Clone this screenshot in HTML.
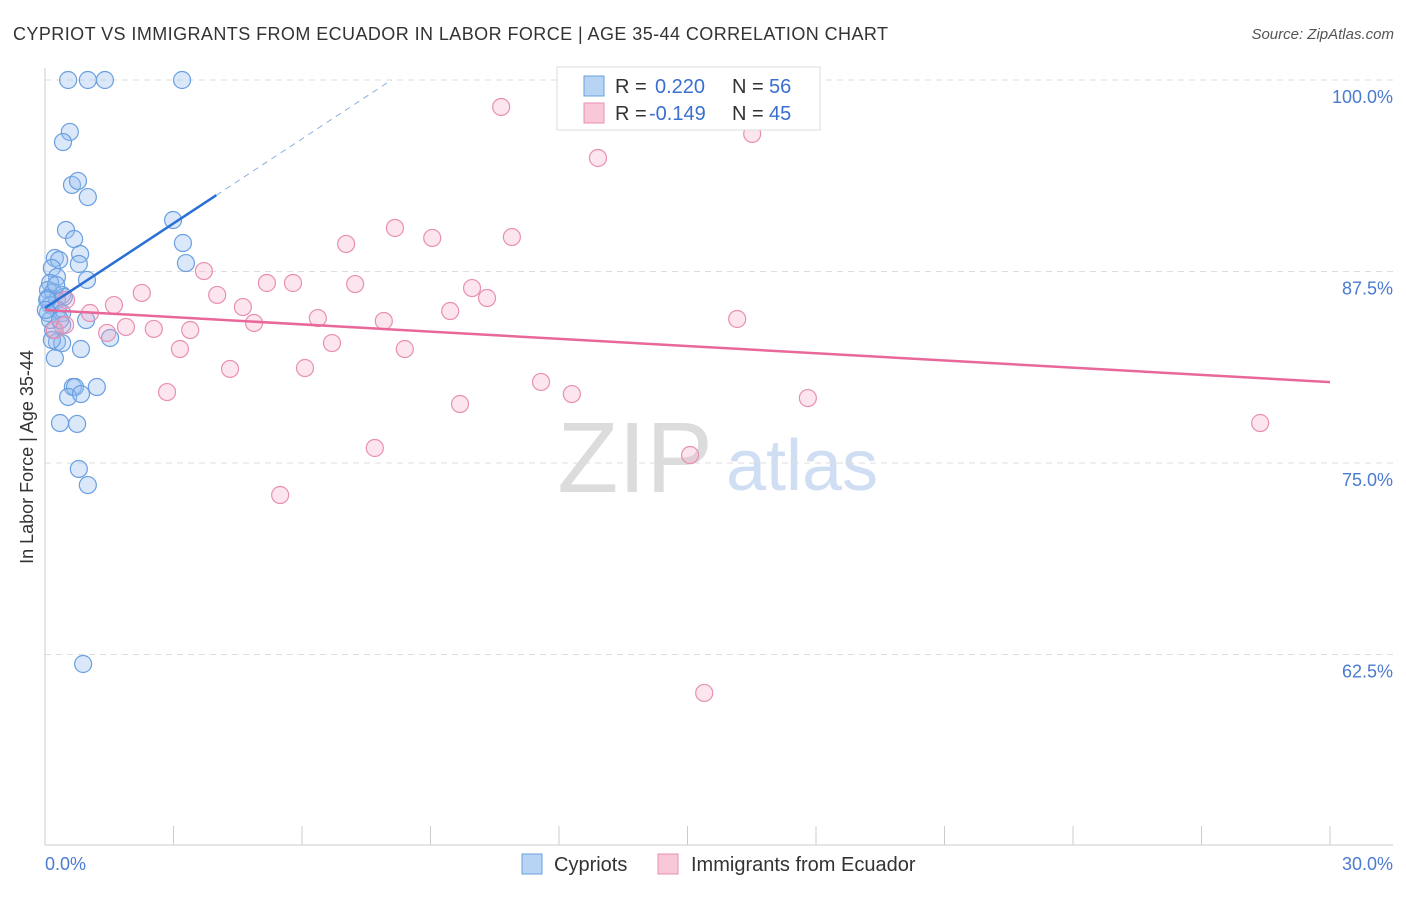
<!DOCTYPE html>
<html><head><meta charset="utf-8"><style>
body{margin:0;background:#fff;font-family:"Liberation Sans",sans-serif;}
svg text{font-family:"Liberation Sans",sans-serif;}
</style></head><body>
<svg id="c" width="1406" height="892">
<text x="13" y="40" font-size="18" fill="#333" textLength="875" lengthAdjust="spacing">CYPRIOT VS IMMIGRANTS FROM ECUADOR IN LABOR FORCE | AGE 35-44 CORRELATION CHART</text>
<text x="1394" y="39" font-size="15" fill="#555" font-style="italic" text-anchor="end">Source: ZipAtlas.com</text>
<text transform="translate(33,457) rotate(-90)" font-size="18" fill="#333" text-anchor="middle">In Labor Force | Age 35-44</text>
<g><text x="635" y="492" font-size="100" fill="#dcdcdc" font-family="Liberation Serif" text-anchor="middle">ZIP</text><text x="802" y="490" font-size="72" fill="#d0def3" text-anchor="middle">atlas</text></g>
<g id="grid"></g><g id="marks"></g>
<g>
<rect x="557" y="67" width="263" height="63" fill="#fff" stroke="#ddd"/>
<rect x="584" y="76" width="20" height="20" fill="#b8d4f5" stroke="#6a9fe0"/>
<text x="615" y="93" font-size="20" fill="#333">R =</text><text x="655" y="93" font-size="20" fill="#3a6fd0">0.220</text>
<text x="732" y="93" font-size="20" fill="#333">N =</text><text x="769" y="93" font-size="20" fill="#3a6fd0">56</text>
<rect x="584" y="103" width="20" height="20" fill="#f8c8d8" stroke="#e890b0"/>
<text x="615" y="120" font-size="20" fill="#333">R =</text><text x="649" y="120" font-size="20" fill="#3a6fd0">-0.149</text>
<text x="732" y="120" font-size="20" fill="#333">N =</text><text x="769" y="120" font-size="20" fill="#3a6fd0">45</text>
</g>
<g>
<rect x="522" y="854" width="20" height="20" fill="#b8d4f5" stroke="#6a9fe0"/>
<text x="554" y="871" font-size="20" fill="#333">Cypriots</text>
<rect x="658" y="854" width="20" height="20" fill="#f8c8d8" stroke="#e890b0"/>
<text x="691" y="871" font-size="20" fill="#333">Immigrants from Ecuador</text>
</g>
</svg>
<script>
const yTicks=[100,87.5,75,62.5];
const yTickLabels=["100.0%","87.5%","75.0%","62.5%"];
const xTickLabels=["0.0%","30.0%"];
const bluePx=[[68,80],[88,80],[105,80],[182,80],[70,132],[63,142],[72,185],[78,181],[88,197],[173,220],[66,230],[74,239],[183,243],[55,258],[59,260],[80,254],[52,268],[79,264],[186,263],[57,277],[87,280],[50,283],[48,290],[53,292],[62,295],[48,298],[57,300],[64,297],[50,305],[58,310],[48,313],[62,313],[86,320],[62,325],[53,330],[110,338],[57,342],[62,343],[81,349],[55,358],[73,387],[75,387],[97,387],[68,397],[81,394],[60,423],[77,424],[79,469],[88,485],[83,664],[50,320],[56,285],[47,300],[60,320],[52,340],[46,310]];
const pinkPx=[[501,107],[598,158],[752,134],[395,228],[432,238],[512,237],[346,244],[204,271],[267,283],[293,283],[355,284],[142,293],[472,288],[217,295],[487,298],[114,305],[243,307],[450,311],[90,313],[318,318],[254,323],[384,321],[737,319],[126,327],[154,329],[190,330],[107,333],[332,343],[180,349],[405,349],[230,369],[305,368],[541,382],[572,394],[167,392],[808,398],[460,404],[375,448],[690,455],[1260,423],[280,495],[704,693],[66,300],[55,330],[65,325]];
const r2=v=>Math.round(v*100)/100;
const cypriotsX=bluePx.map(p=>r2((p[0]-45)*30/1285));
const cypriotsY=bluePx.map(p=>r2(100-(p[1]-80)*12.5/191.5));
const ecuadorX=pinkPx.map(p=>r2((p[0]-45)*30/1285));
const ecuadorY=pinkPx.map(p=>r2(100-(p[1]-80)*12.5/191.5));
const blueTrend=[85.12,1.84];
const pinkTrend=[84.99,-0.157];
const X=v=>45+v/30*1285, Y=v=>80+(100-v)*191.5/12.5;
const NS='http://www.w3.org/2000/svg';
function mk(t,a,p){const e=document.createElementNS(NS,t);for(const k in a)e.setAttribute(k,a[k]);p.appendChild(e);return e;}
const g=document.getElementById('grid'),m=document.getElementById('marks');
yTicks.forEach((t,i)=>{
 const l=mk('line',{x1:45,x2:1393,y1:Y(t),y2:Y(t),stroke:'#ddd','stroke-dasharray':'6,5'},g);
 
 
 const tx=mk('text',{x:1393,y:Y(t)+23,'font-size':18,fill:'#4a7bd0','text-anchor':'end'},g);
 tx.textContent=yTickLabels[i];
 
 
});
const ax=mk('line',{x1:45,x2:45,y1:68,y2:845,stroke:'#ccc'},g);


const bx=mk('line',{x1:45,x2:1393,y1:845,y2:845,stroke:'#ccc'},g);


for(let i=0;i<=10;i++){const t=mk('line',{x1:X(i*3),x2:X(i*3),y1:826,y2:845,stroke:'#ccc'},g);
 
 }
[[0,'start',45],[30,'end',1393]].forEach((d,i)=>{const t=mk('text',{x:d[2],y:870,'font-size':18,fill:'#4a7bd0','text-anchor':d[1]},g);t.textContent=xTickLabels[i];
 
 });
cypriotsX.forEach((x,i)=>{const c=mk('circle',{cx:X(x),cy:Y(cypriotsY[i]),r:8.5,fill:'rgba(150,190,240,0.35)',stroke:'#6a9fe0','stroke-width':1.2},m);
 
 });
ecuadorX.forEach((x,i)=>{const c=mk('circle',{cx:X(x),cy:Y(ecuadorY[i]),r:8.5,fill:'rgba(245,170,200,0.3)',stroke:'#e890b0','stroke-width':1.2},m);
 
 });
const bt=x=>blueTrend[0]+blueTrend[1]*x, pt=x=>pinkTrend[0]+pinkTrend[1]*x;
const xe=(100-blueTrend[0])/blueTrend[1];
const d1=mk('line',{x1:X(4),y1:Y(bt(4)),x2:X(xe),y2:Y(100),stroke:'#8ab0e0','stroke-dasharray':'6,5'},m);


const l1=mk('line',{x1:X(0),y1:Y(bt(0)),x2:X(4),y2:Y(bt(4)),stroke:'#2a6fd6','stroke-width':2.5},m);


const l2=mk('line',{x1:X(0),y1:Y(pt(0)),x2:X(30),y2:Y(pt(30)),stroke:'#e8689a','stroke-width':2.5},m);


</script>
</body></html>
